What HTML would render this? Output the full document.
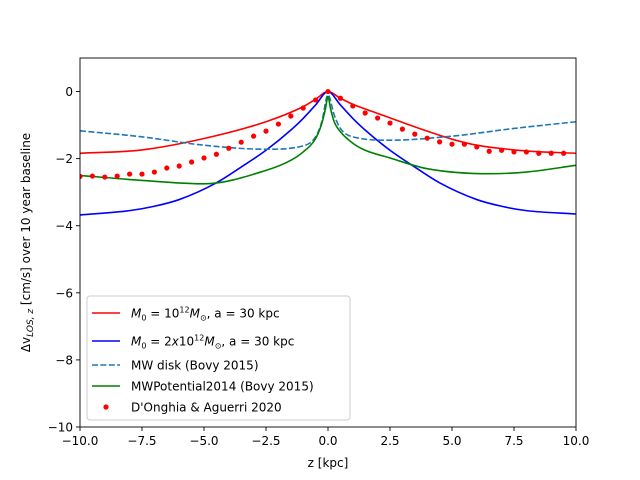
<!DOCTYPE html>
<html><head><meta charset="utf-8"><style>
html,body{margin:0;padding:0;background:#fff;}
svg{display:block;font-family:"DejaVu Sans","Liberation Sans",sans-serif;}
</style></head><body>
<svg id="chart" width="640" height="480" xmlns="http://www.w3.org/2000/svg">
<rect x="0" y="0" width="640" height="480" fill="#fff"/>
<g id="series"></g>
<g id="axes"></g>
<g id="legend"></g>
</svg>
<script>
const xTicks = [-10, -7.5, -5, -2.5, 0, 2.5, 5, 7.5, 10];
const xTickLabels = ["\u221210.0", "\u22127.5", "\u22125.0", "\u22122.5", "0.0", "2.5", "5.0", "7.5", "10.0"];
const yTicks = [0, -2, -4, -6, -8, -10];
const yTickLabels = ["0", "\u22122", "\u22124", "\u22126", "\u22128", "\u221210"];

const redZ = [-10, -7.5, -5, -2.5, -1, -0.5, 0, 0.5, 1, 2, 3, 4, 5, 6, 8, 10];
const redV = [-1.84, -1.74, -1.4, -0.9, -0.45, -0.23, 0, -0.2, -0.38, -0.65, -0.92, -1.18, -1.42, -1.6, -1.77, -1.84];

const blueZ = [-10, -8, -7, -6, -4.5, -3.5, -2.5, -1.5, -1, -0.5, 0, 0.5, 1, 1.5, 2.5, 3.5, 4.5, 6, 7, 8, 10];
const blueV = [-3.68, -3.55, -3.42, -3.22, -2.72, -2.25, -1.75, -1.15, -0.8, -0.4, 0, -0.4, -0.8, -1.15, -1.75, -2.25, -2.72, -3.22, -3.42, -3.55, -3.65];

const diskZ = [-10, -7.5, -5, -2.5, -1, -0.5, -0.25, 0, 0.25, 0.5, 1, 2.5, 5, 7.5, 10];
const diskV = [-1.17, -1.35, -1.6, -1.72, -1.62, -1.35, -0.9, -0.1, -0.7, -1.1, -1.35, -1.45, -1.33, -1.1, -0.9];

const greenZ = [-10, -7.5, -5, -2.5, -1.5, -1, -0.5, -0.25, -0.1, 0, 0.1, 0.25, 0.5, 1, 1.5, 2.5, 4, 6.5, 8, 10];
const greenV = [-2.5, -2.65, -2.75, -2.35, -2.05, -1.8, -1.4, -0.95, -0.5, -0.15, -0.5, -0.9, -1.2, -1.54, -1.75, -1.98, -2.3, -2.45, -2.4, -2.2];

const dotZ = [-10, -9.5, -9, -8.5, -8, -7.5, -7, -6.5, -6, -5.5, -5, -4.5, -4, -3.5, -3, -2.5, -2, -1.5, -1, -0.5, 0,
  0.5, 1, 1.5, 2, 2.5, 3, 3.5, 4, 4.5, 5, 5.5, 6, 6.5, 7, 7.5, 8, 8.5, 9, 9.5];
const dotV = [-2.53, -2.52, -2.55, -2.52, -2.46, -2.46, -2.4, -2.28, -2.22, -2.1, -1.98, -1.87, -1.69, -1.51, -1.33, -1.18, -0.97, -0.73, -0.49, -0.25, 0,
  -0.2, -0.43, -0.64, -0.79, -0.94, -1.12, -1.27, -1.39, -1.5, -1.57, -1.57, -1.65, -1.78, -1.75, -1.8, -1.8, -1.84, -1.84, -1.84];

const X0 = 80, X1 = 576, Y0 = 58, Y1 = 427;
const xmin = -10, xmax = 10, ymin = -10, ymax = 1;
function sx(v){ return X0 + (v - xmin) / (xmax - xmin) * (X1 - X0); }
function sy(v){ return Y1 - (v - ymin) / (ymax - ymin) * (Y1 - Y0); }
const NS = "http://www.w3.org/2000/svg";
function mk(tag, attrs, parent){
  const e = document.createElementNS(NS, tag);
  for (const k in attrs) e.setAttribute(k, attrs[k]);
  parent.appendChild(e);
  return e;
}
const series = document.getElementById('series');
const axes = document.getElementById('axes');
const legend = document.getElementById('legend');

const clip = mk('clipPath', {id: 'pc'}, series);
mk('rect', {x: X0, y: Y0, width: X1 - X0, height: Y1 - Y0}, clip);

function smoothPath(xs, ys){
  const n = xs.length, d = [], m = [];
  for (let i = 0; i < n - 1; i++) d.push((ys[i+1] - ys[i]) / (xs[i+1] - xs[i]));
  m[0] = d[0]; m[n-1] = d[n-2];
  for (let i = 1; i < n - 1; i++) m[i] = (d[i-1] * d[i] <= 0) ? 0 : (d[i-1] + d[i]) / 2;
  for (let i = 0; i < n - 1; i++) {
    if (d[i] === 0) { m[i] = 0; m[i+1] = 0; continue; }
    const a = m[i] / d[i], b = m[i+1] / d[i], s = a * a + b * b;
    if (s > 9) { const t = 3 / Math.sqrt(s); m[i] = t * a * d[i]; m[i+1] = t * b * d[i]; }
  }
  let p = 'M' + xs[0].toFixed(2) + ' ' + ys[0].toFixed(2);
  for (let i = 0; i < n - 1; i++) {
    const h = (xs[i+1] - xs[i]) / 3;
    p += ' C' + (xs[i] + h).toFixed(2) + ' ' + (ys[i] + m[i] * h).toFixed(2) + ' ' +
      (xs[i+1] - h).toFixed(2) + ' ' + (ys[i+1] - m[i+1] * h).toFixed(2) + ' ' +
      xs[i+1].toFixed(2) + ' ' + ys[i+1].toFixed(2);
  }
  return p;
}
function line(zs, vs, color, dash, name){
  const d = smoothPath(zs.map(sx), vs.map(sy));
  const p = mk('path', {d: d, fill: 'none', stroke: color, 'stroke-width': 1.6, 'clip-path': 'url(#pc)', 'stroke-linejoin': 'round'}, series);
  if (dash) p.setAttribute('stroke-dasharray', dash);
  
  
}
line(redZ, redV, '#ff0000', null, 'line-m0-1e12');
line(blueZ, blueV, '#0000ff', null, 'line-m0-2e12');
line(diskZ, diskV, '#1f77b4', '6,2.4', 'line-mw-disk');
line(greenZ, greenV, '#008000', null, 'line-mwpotential2014');
dotZ.forEach((z, i) => {
  const c = mk('circle', {cx: sx(z), cy: sy(dotV[i]), r: 2.6, fill: '#ff0000', 'clip-path': 'url(#pc)'}, series);
  
  
});

const frame = mk('rect', {x: X0, y: Y0, width: X1 - X0, height: Y1 - Y0, fill: 'none', stroke: '#000', 'stroke-width': 0.9}, axes);


xTicks.forEach((t, i) => {
  mk('line', {x1: sx(t), x2: sx(t), y1: Y1, y2: Y1 + 4, stroke: '#000', 'stroke-width': 0.9}, axes);
  const tx = mk('text', {x: sx(t), y: Y1 + 18, 'font-size': 12, 'text-anchor': 'middle', fill: '#000'}, axes);
  tx.textContent = xTickLabels[i];
  
  
});
yTicks.forEach((t, i) => {
  mk('line', {x1: X0 - 4, x2: X0, y1: sy(t), y2: sy(t), stroke: '#000', 'stroke-width': 0.9}, axes);
  const tx = mk('text', {x: X0 - 7, y: sy(t) + 4.5, 'font-size': 12, 'text-anchor': 'end', fill: '#000'}, axes);
  tx.textContent = yTickLabels[i];
  
  
});
const xt = mk('text', {x: (X0 + X1) / 2, y: 467, 'font-size': 12, 'text-anchor': 'middle'}, axes);
xt.textContent = 'z [kpc]';


const yt = mk('text', {x: 0, y: 0, 'font-size': 12, 'text-anchor': 'middle', transform: 'translate(30,' + ((Y0 + Y1) / 2) + ') rotate(-90)'}, axes);
yt.innerHTML = '\u0394v<tspan font-size="9" dy="3" font-style="italic">LOS, z</tspan><tspan dy="-3"> [cm/s] over 10 year baseline</tspan>';



const box = mk('rect', {x: 87, y: 296, width: 263, height: 124, rx: 3, fill: '#fff', 'fill-opacity': 0.8, stroke: '#ccc', 'stroke-width': 1}, legend);


const entries = [
  {y: 313, color: '#ff0000', html: '<tspan font-style="italic">M</tspan><tspan font-size="8" dy="3">0</tspan><tspan dy="-3"> = 10</tspan><tspan font-size="8" dy="-5">12</tspan><tspan font-style="italic" dy="5">M</tspan><tspan font-size="8" dy="3">\u2299</tspan><tspan dy="-3">, a = 30 kpc</tspan>'},
  {y: 341, color: '#0000ff', html: '<tspan font-style="italic">M</tspan><tspan font-size="8" dy="3">0</tspan><tspan dy="-3"> = 2</tspan><tspan font-style="italic">x</tspan><tspan>10</tspan><tspan font-size="8" dy="-5">12</tspan><tspan font-style="italic" dy="5">M</tspan><tspan font-size="8" dy="3">\u2299</tspan><tspan dy="-3">, a = 30 kpc</tspan>'},
  {y: 365, color: '#1f77b4', dash: '6,2.4', html: 'MW disk (Bovy 2015)'},
  {y: 386, color: '#008000', html: 'MWPotential2014 (Bovy 2015)'},
  {y: 407, color: '#ff0000', dot: true, html: "D'Onghia &amp; Aguerri 2020"}
];
entries.forEach(e => {
  if (e.dot) {
    const c = mk('circle', {cx: 106, cy: e.y, r: 2.6, fill: e.color}, legend);
    
    
  } else {
    const l = mk('line', {x1: 92, x2: 120, y1: e.y, y2: e.y, stroke: e.color, 'stroke-width': 1.6}, legend);
    if (e.dash) l.setAttribute('stroke-dasharray', e.dash);
    
    
  }
  const t = mk('text', {x: 131, y: e.y + 4.5, 'font-size': 12, fill: '#000'}, legend);
  t.innerHTML = e.html;
  
  
});
</script>
</body></html>
